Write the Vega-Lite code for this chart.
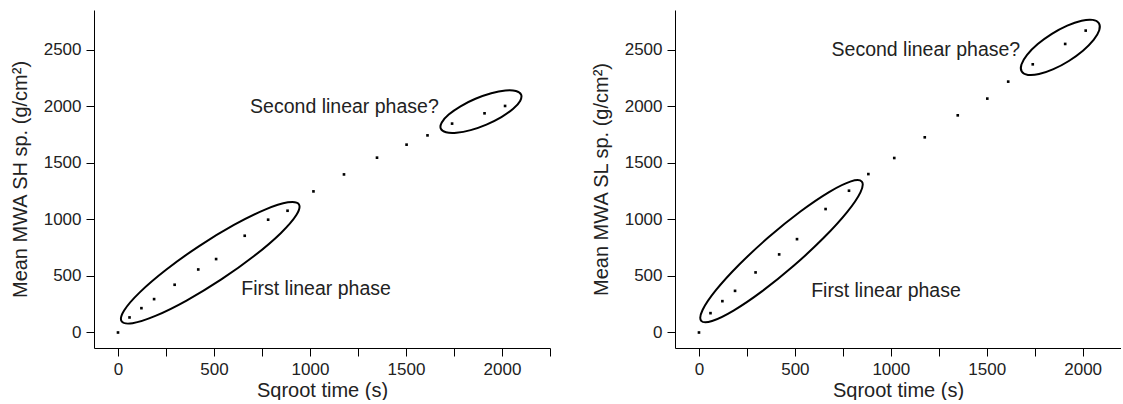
{
  "$schema": "https://vega.github.io/schema/vega-lite/v6.json",
  "background": "white",
  "padding": {"left": 10, "top": 10, "right": 0, "bottom": 0},
  "spacing": 40,
  "config": {
    "view": {"stroke": null},
    "font": "Liberation Sans",
    "axis": {
      "grid": false,
      "domainColor": "#000",
      "tickColor": "#000",
      "labelColor": "#222",
      "titleColor": "#222",
      "labelFont": "Liberation Sans",
      "titleFont": "Liberation Sans",
      "labelFontSize": 17,
      "titleFontSize": 20,
      "titleFontWeight": "normal",
      "tickSize": 8,
      "labelPadding": 5,
      "domainWidth": 1,
      "tickWidth": 1,
      "format": "d"
    }
  },
  "datasets": {
    "ptsL": [
      {"x": 0, "y": 0}, {"x": 60, "y": 133}, {"x": 122, "y": 215}, {"x": 188, "y": 295},
      {"x": 295, "y": 422}, {"x": 418, "y": 557}, {"x": 511, "y": 649}, {"x": 660, "y": 855},
      {"x": 782, "y": 997}, {"x": 883, "y": 1076}, {"x": 1018, "y": 1247}, {"x": 1177, "y": 1397},
      {"x": 1349, "y": 1545}, {"x": 1503, "y": 1660}, {"x": 1612, "y": 1742}, {"x": 1740, "y": 1846},
      {"x": 1909, "y": 1937}, {"x": 2016, "y": 2002}
    ],
    "ptsR": [
      {"x": 0, "y": 0}, {"x": 60, "y": 171}, {"x": 122, "y": 277}, {"x": 188, "y": 368},
      {"x": 295, "y": 531}, {"x": 418, "y": 690}, {"x": 511, "y": 825}, {"x": 660, "y": 1091},
      {"x": 782, "y": 1253}, {"x": 883, "y": 1400}, {"x": 1018, "y": 1542}, {"x": 1177, "y": 1725},
      {"x": 1349, "y": 1919}, {"x": 1503, "y": 2067}, {"x": 1612, "y": 2217}, {"x": 1740, "y": 2370},
      {"x": 1909, "y": 2550}, {"x": 2016, "y": 2668}
    ],
    "ellL": [
      {"g": "a", "i": 0, "x": 942.0, "y": 1133.6}, {"g": "a", "i": 1, "x": 928.9, "y": 1037.8},
      {"g": "a", "i": 2, "x": 847.6, "y": 877.8}, {"g": "a", "i": 3, "x": 710.3, "y": 678.0},
      {"g": "a", "i": 4, "x": 538.1, "y": 468.8}, {"g": "a", "i": 5, "x": 357.0, "y": 282.1},
      {"g": "a", "i": 6, "x": 194.8, "y": 146.3}, {"g": "a", "i": 7, "x": 76.0, "y": 82.0},
      {"g": "a", "i": 8, "x": 18.8, "y": 99.0}, {"g": "a", "i": 9, "x": 31.9, "y": 194.8},
      {"g": "a", "i": 10, "x": 113.2, "y": 354.8}, {"g": "a", "i": 11, "x": 250.5, "y": 554.6},
      {"g": "a", "i": 12, "x": 422.7, "y": 763.8}, {"g": "a", "i": 13, "x": 603.8, "y": 950.5},
      {"g": "a", "i": 14, "x": 766.0, "y": 1086.3}, {"g": "a", "i": 15, "x": 884.8, "y": 1150.6},
      {"g": "b", "i": 0, "x": 2099.5, "y": 2101.7}, {"g": "b", "i": 1, "x": 2094.5, "y": 2046.7},
      {"g": "b", "i": 2, "x": 2058.4, "y": 1977.1}, {"g": "b", "i": 3, "x": 1996.8, "y": 1903.6},
      {"g": "b", "i": 4, "x": 1919.0, "y": 1837.4}, {"g": "b", "i": 5, "x": 1836.8, "y": 1788.5},
      {"g": "b", "i": 6, "x": 1762.8, "y": 1764.5}, {"g": "b", "i": 7, "x": 1708.2, "y": 1768.9},
      {"g": "b", "i": 8, "x": 1681.3, "y": 1801.1}, {"g": "b", "i": 9, "x": 1686.3, "y": 1856.1},
      {"g": "b", "i": 10, "x": 1722.4, "y": 1925.7}, {"g": "b", "i": 11, "x": 1784.0, "y": 1999.2},
      {"g": "b", "i": 12, "x": 1861.8, "y": 2065.4}, {"g": "b", "i": 13, "x": 1944.0, "y": 2114.3},
      {"g": "b", "i": 14, "x": 2018.0, "y": 2138.3}, {"g": "b", "i": 15, "x": 2072.6, "y": 2133.9}
    ],
    "ellR": [
      {"g": "a", "i": 0, "x": 848.8, "y": 1333.9}, {"g": "a", "i": 1, "x": 841.7, "y": 1238.4},
      {"g": "a", "i": 2, "x": 772.1, "y": 1063.8}, {"g": "a", "i": 3, "x": 650.3, "y": 836.7},
      {"g": "a", "i": 4, "x": 495.1, "y": 591.5}, {"g": "a", "i": 5, "x": 329.9, "y": 365.7},
      {"g": "a", "i": 6, "x": 180.1, "y": 193.7}, {"g": "a", "i": 7, "x": 68.3, "y": 101.4},
      {"g": "a", "i": 8, "x": 11.6, "y": 103.3}, {"g": "a", "i": 9, "x": 18.7, "y": 198.8},
      {"g": "a", "i": 10, "x": 88.3, "y": 373.4}, {"g": "a", "i": 11, "x": 210.1, "y": 600.5},
      {"g": "a", "i": 12, "x": 365.3, "y": 845.7}, {"g": "a", "i": 13, "x": 530.5, "y": 1071.5},
      {"g": "a", "i": 14, "x": 680.3, "y": 1243.5}, {"g": "a", "i": 15, "x": 792.1, "y": 1335.8},
      {"g": "b", "i": 0, "x": 2085.0, "y": 2733.0}, {"g": "b", "i": 1, "x": 2086.6, "y": 2670.8},
      {"g": "b", "i": 2, "x": 2057.3, "y": 2585.6}, {"g": "b", "i": 3, "x": 2001.6, "y": 2490.3},
      {"g": "b", "i": 4, "x": 1928.0, "y": 2399.5}, {"g": "b", "i": 5, "x": 1847.7, "y": 2326.9},
      {"g": "b", "i": 6, "x": 1772.8, "y": 2283.8}, {"g": "b", "i": 7, "x": 1714.9, "y": 2276.5},
      {"g": "b", "i": 8, "x": 1682.6, "y": 2306.2}, {"g": "b", "i": 9, "x": 1681.0, "y": 2368.4},
      {"g": "b", "i": 10, "x": 1710.3, "y": 2453.6}, {"g": "b", "i": 11, "x": 1766.0, "y": 2548.9},
      {"g": "b", "i": 12, "x": 1839.6, "y": 2639.7}, {"g": "b", "i": 13, "x": 1919.9, "y": 2712.3},
      {"g": "b", "i": 14, "x": 1994.8, "y": 2755.4}, {"g": "b", "i": 15, "x": 2052.7, "y": 2762.7}
    ],
    "txtL": [
      {"x": 688, "y": 1989, "label": "Second linear phase?"},
      {"x": 642, "y": 380, "label": "First linear phase"}
    ],
    "txtR": [
      {"x": 691, "y": 2496, "label": "Second linear phase?"},
      {"x": 585, "y": 363, "label": "First linear phase"}
    ]
  },
  "hconcat": [
    {
      "width": 456,
      "height": 338,
      "encoding": {
        "x": {
          "field": "x", "type": "quantitative",
          "scale": {"domain": [-125, 2250], "nice": false, "zero": false},
          "axis": {
            "title": "Sqroot time (s)",
            "titlePadding": 3,
            "values": [0, 250, 500, 750, 1000, 1250, 1500, 1750, 2000, 2250],
            "labelExpr": "datum.value % 500 === 0 ? datum.label : ''"
          }
        },
        "y": {
          "field": "y", "type": "quantitative",
          "scale": {"domain": [-137, 2850], "nice": false, "zero": false},
          "axis": {
            "title": "Mean MWA SH sp. (g/cm²)",
            "titlePadding": 13,
            "values": [0, 500, 1000, 1500, 2000, 2500]
          }
        }
      },
      "layer": [
        {
          "data": {"name": "ellL"},
          "mark": {"type": "line", "interpolate": "cardinal-closed", "stroke": "#000", "strokeWidth": 2},
          "encoding": {
            "detail": {"field": "g", "type": "nominal"},
            "order": {"field": "i", "type": "quantitative"}
          }
        },
        {
          "data": {"name": "ptsL"},
          "mark": {"type": "square", "size": 7, "color": "#000", "filled": true, "opacity": 1}
        },
        {
          "data": {"name": "txtL"},
          "mark": {"type": "text", "fontSize": 19.5, "align": "left", "baseline": "middle", "color": "#222", "font": "Liberation Sans"},
          "encoding": {"text": {"field": "label", "type": "nominal"}}
        }
      ]
    },
    {
      "width": 446,
      "height": 338,
      "encoding": {
        "x": {
          "field": "x", "type": "quantitative",
          "scale": {"domain": [-125, 2200], "nice": false, "zero": false},
          "axis": {
            "title": "Sqroot time (s)",
            "titlePadding": 3,
            "values": [0, 250, 500, 750, 1000, 1250, 1500, 1750, 2000],
            "labelExpr": "datum.value % 500 === 0 ? datum.label : ''"
          }
        },
        "y": {
          "field": "y", "type": "quantitative",
          "scale": {"domain": [-137, 2850], "nice": false, "zero": false},
          "axis": {
            "title": "Mean MWA SL sp. (g/cm²)",
            "titlePadding": 13,
            "values": [0, 500, 1000, 1500, 2000, 2500]
          }
        }
      },
      "layer": [
        {
          "data": {"name": "ellR"},
          "mark": {"type": "line", "interpolate": "cardinal-closed", "stroke": "#000", "strokeWidth": 2},
          "encoding": {
            "detail": {"field": "g", "type": "nominal"},
            "order": {"field": "i", "type": "quantitative"}
          }
        },
        {
          "data": {"name": "ptsR"},
          "mark": {"type": "square", "size": 7, "color": "#000", "filled": true, "opacity": 1}
        },
        {
          "data": {"name": "txtR"},
          "mark": {"type": "text", "fontSize": 19.5, "align": "left", "baseline": "middle", "color": "#222", "font": "Liberation Sans"},
          "encoding": {"text": {"field": "label", "type": "nominal"}}
        }
      ]
    }
  ]
}
